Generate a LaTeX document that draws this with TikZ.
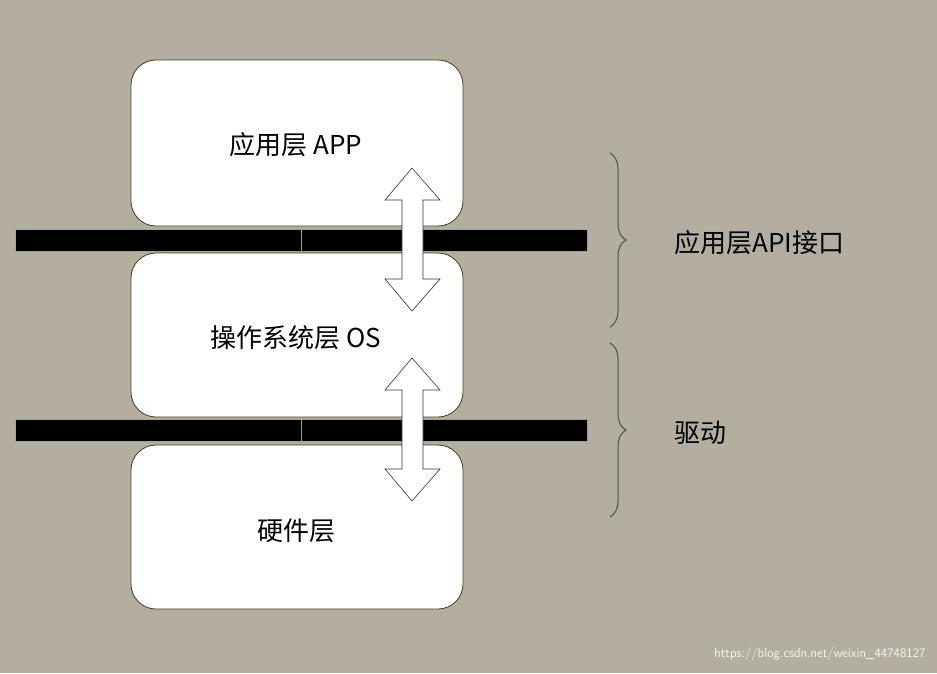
\documentclass[tikz,border=0pt]{standalone}
\usepackage{fontspec}
\setmainfont{Noto Sans CJK SC}
\usetikzlibrary{shapes.arrows,decorations.pathreplacing}
\definecolor{bg}{HTML}{B3AE9F}
\definecolor{edge}{HTML}{4A3C10}
\definecolor{baredge}{HTML}{C8A040}
\begin{document}
\begin{tikzpicture}[x=1pt,y=-1pt,
  layer/.style={draw=edge,fill=white,rounded corners=25pt,line width=0.8pt},
  bar/.style={fill=black,draw=baredge,line width=0.6pt},
  dblarrow/.style={draw=black!80,fill=white,line width=0.6pt},
  brc/.style={draw=black!70,line width=1pt,decoration={brace,amplitude=16pt,raise=0pt},decorate},
  lbl/.style={font=\fontsize{26}{30}\selectfont,text=black}]
\fill[bg] (0,0) rectangle (937,673);
\useasboundingbox (0,0) rectangle (937,673);
\draw[layer] (131,60) rectangle (463,226);
\draw[layer] (131,253) rectangle (463,417);
\draw[layer] (131,445) rectangle (463,609);
\node[lbl] (app) at (296,145) {应用层 APP};
\node[lbl] (os) at (296,338) {操作系统层 OS};
\node[lbl] (hw) at (296,531) {硬件层};
\draw[bar] (15,229) rectangle (587,251);
\draw[bar] (15,419) rectangle (587,441);
\draw[baredge,line width=0.8pt] (301,229) -- (301,251);
\draw[baredge,line width=0.8pt] (301,419) -- (301,441);
\foreach \t/\b in {168/311,358/501}{
  \draw[dblarrow] (412,\t) -- (440,\t+32) -- (423,\t+32) -- (423,\b-32) -- (440,\b-32) -- (412,\b)
   -- (385,\b-32) -- (402,\b-32) -- (402,\t+32) -- (385,\t+32) -- cycle;
}
\coordinate (b1t) at (610,153); \coordinate (b1b) at (610,327);
\coordinate (b2t) at (610,343); \coordinate (b2b) at (610,517);
\draw[brc] (b1t) -- (b1b);
\draw[brc] (b2t) -- (b2b);
\node[lbl,anchor=west] (api) at (671,243) {应用层API接口};
\node[lbl,anchor=west] (drv) at (671,433) {驱动};
\node[anchor=east,text=white!90!bg,font=\fontsize{13}{15}\selectfont\sffamily] (wm) at (929,654) {https://blog.csdn.net/weixin\_44748127};
\end{tikzpicture}
\end{document}
